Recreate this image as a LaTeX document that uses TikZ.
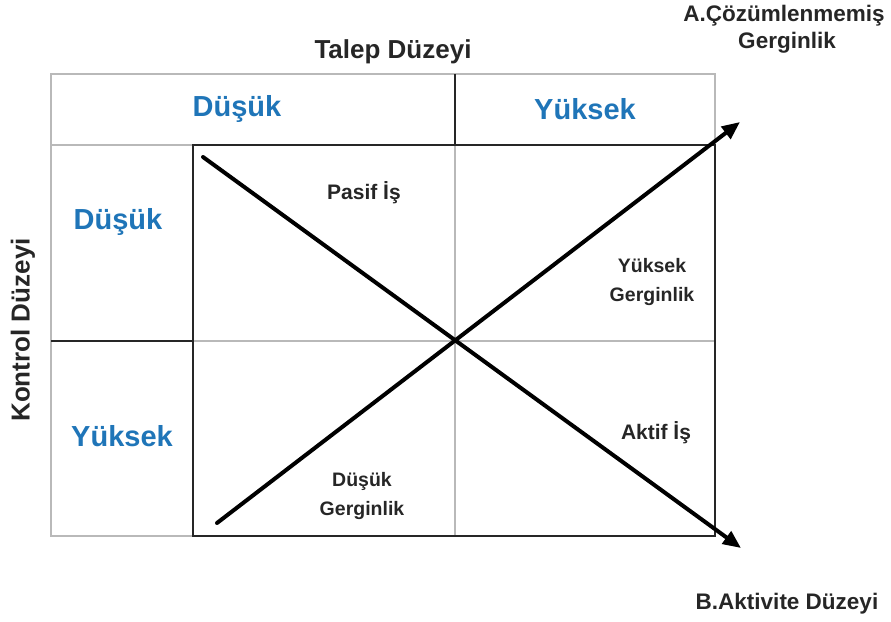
\documentclass[tikz,border=0pt]{standalone}
\usepackage{fontspec}
\setmainfont{Liberation Sans}
\usetikzlibrary{arrows.meta}
\definecolor{hdrblue}{RGB}{31,117,184}
\definecolor{gridgray}{RGB}{185,185,185}
\begin{document}
\begin{tikzpicture}[x=1pt,y=-1pt,
  thinline/.style={draw=gridgray,line width=1.1pt},
  darkline/.style={draw=black!85,line width=1.4pt},
  diag/.style={line width=4pt,line cap=round,-{Triangle[length=18pt,width=15pt]}},
  blue/.style={font=\fontsize{29}{30}\selectfont\bfseries,text=hdrblue,inner sep=0pt},
  lbl/.style={font=\fontsize{#1}{#1}\selectfont\bfseries,text=black!85,inner sep=0pt,align=center},
  lbl/.default=20]
\useasboundingbox (0,0) rectangle (891,621);
% outer gray frame
\draw[thinline] (51,74) rectangle (715,536);
\draw[thinline] (51,145) -- (715,145);
\draw[thinline] (455,145) -- (455,536);
\draw[thinline] (193,341) -- (715,341);
% dark lines
\draw[darkline] (455,74) -- (455,145);
\draw[darkline] (51,341) -- (193,341);
\draw[darkline] (193,145) rectangle (715,536);
% labels
\node[lbl=26] (talep) at (393,52) {Talep Düzeyi};
\node[lbl=26,rotate=90] (kontrol) at (23,330) {Kontrol Düzeyi};
\node[blue] (hd) at (237,109) {Düşük};
\node[blue] (hy) at (585,109) {Yüksek};
\node[blue] (ld) at (118,222) {Düşük};
\node[blue] (ly) at (122,436) {Yüksek};
\node[lbl=21] (pasif) at (364,193) {Pasif İş};
\node[lbl=19.5] (yg) at (652,282) {Yüksek\\[10pt]Gerginlik};
\node[lbl=21] (aktif) at (656,433) {Aktif İş};
\node[lbl=19.5] (dg) at (362,496) {Düşük\\[10pt]Gerginlik};
\node[lbl=22.5] (aco) at (784,29) {A.Çözümlenmemiş\\[4pt]\hspace*{6pt}Gerginlik};
\node[lbl=22.5] (bak) at (787,604) {B.Aktivite Düzeyi};
% diagonals
\coordinate (s1) at (203,157);
\coordinate (e1) at (741,548);
\coordinate (s2) at (217,523);
\coordinate (e2) at (740,122);
\draw[diag] (s1) -- (e1);
\draw[diag] (s2) -- (e2);
\end{tikzpicture}
\end{document}
